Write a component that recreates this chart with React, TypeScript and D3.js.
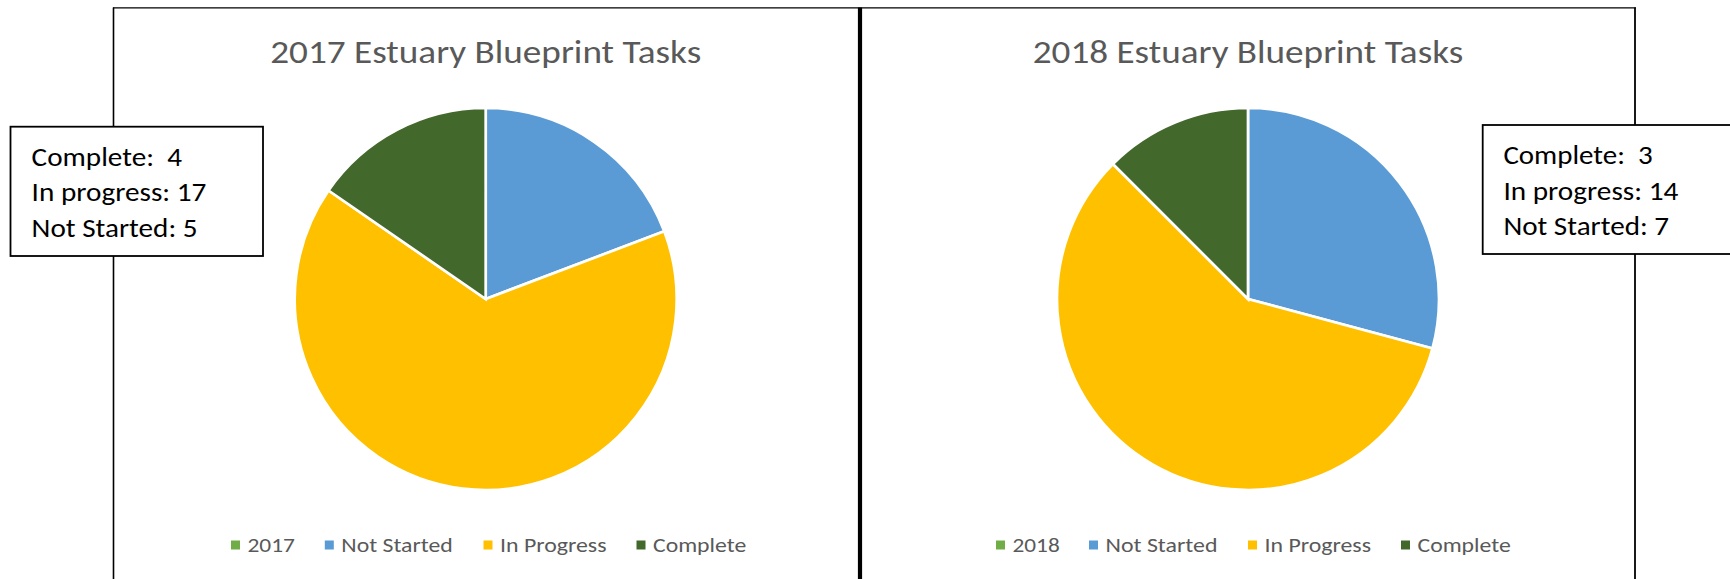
import React from "react";
import * as d3 from "d3";

const categories = ["Not Started", "In Progress", "Complete"];
const years = ["2017", "2018"];
const values2017 = [5, 17, 4];
const values2018 = [7, 14, 3];

const colors = ["#5B9BD5", "#FFC000", "#43682B"];
const yearColor = "#70AD47";
const textColor = "#595959";
const FONT = "Carlito, Calibri, Lato, sans-serif";

type PanelProps = {
  year: string;
  values: number[];
  cx: number;
  titleW: number;
  legendX: number[];
  legendW: number[];
};

function Panel({ year, values, cx, titleW, legendX, legendW }: PanelProps) {
  const cy = 299;
  const r = 191;
  const pie = d3.pie<number>().sort(null).value((d) => d).startAngle(0).endAngle(2 * Math.PI);
  const arc = d3.arc<d3.PieArcDatum<number>>().innerRadius(0).outerRadius(r);
  const arcs = pie(values);
  const legendLabels = [year, ...categories];
  const legendColors = [yearColor, ...colors];
  return (
    <g>
      <text
        x={cx}
        y={62.7}
        textAnchor="middle"
        fontFamily={FONT}
        fontSize={32.5}
        fill={textColor}
        textLength={titleW}
        lengthAdjust="spacingAndGlyphs"
      >
        {`${year} Estuary Blueprint Tasks`}
      </text>
      <g transform={`translate(${cx},${cy})`}>
        {arcs.map((a, i) => (
          <path key={i} d={arc(a) || ""} fill={colors[i]} stroke="#fff" strokeWidth={2.7} strokeLinejoin="miter" />
        ))}
      </g>
      {legendLabels.map((l, i) => (
        <g key={l}>
          <rect x={legendX[i]} y={540.5} width={9} height={9} fill={legendColors[i]} />
          <text
            x={legendX[i] + 16.5}
            y={552.3}
            fontFamily={FONT}
            fontSize={21}
            fill={textColor}
            textLength={legendW[i]}
            lengthAdjust="spacingAndGlyphs"
          >
            {l}
          </text>
        </g>
      ))}
    </g>
  );
}

type BoxProps = { x: number; y: number; w: number; h: number; values: number[]; tx: number; base: number; widths: number[] };

function InfoBox({ x, y, w, h, values, tx, base, widths }: BoxProps) {
  const lines = [`Complete:  ${values[2]}`, `In progress: ${values[1]}`, `Not Started: ${values[0]}`];
  return (
    <g>
      <rect x={x} y={y} width={w} height={h} fill="#fff" stroke="#000" strokeWidth={1.8} />
      {lines.map((t, i) => (
        <text
          key={i}
          x={tx}
          y={base + i * 35.4}
          fontFamily={FONT}
          fontSize={26.5}
          fill="#000"
          style={{ whiteSpace: "pre" }}
          textLength={widths[i]}
          lengthAdjust="spacingAndGlyphs"
        >
          {t}
        </text>
      ))}
    </g>
  );
}

export default function App() {
  return (
    <svg width={1730} height={579} style={{ position: "absolute", left: 0, top: 0, background: "#fff" }}>
      <rect x={0} y={0} width={1730} height={579} fill="#fff" />
      {/* chart frames */}
      <line x1={113.5} y1={7.5} x2={113.5} y2={590} stroke="#000" strokeWidth={1.6} />
      <line x1={113} y1={7.8} x2={1636} y2={7.8} stroke="#000" strokeWidth={1.3} />
      <line x1={860} y1={7.5} x2={860} y2={590} stroke="#000" strokeWidth={4.2} />
      <line x1={1635} y1={7.5} x2={1635} y2={590} stroke="#000" strokeWidth={1.8} />

      <Panel
        year={years[0]}
        values={values2017}
        cx={485.7}
        titleW={431}
        legendX={[231, 324.8, 483.5, 636.5]}
        legendW={[47.5, 111.5, 106.5, 93.2]}
      />
      <Panel
        year={years[1]}
        values={values2018}
        cx={1248}
        titleW={430.5}
        legendX={[996, 1089, 1248, 1401]}
        legendW={[47.2, 112, 106.5, 93.2]}
      />

      <InfoBox x={10.5} y={126.7} w={252.5} h={129.3} values={values2017} tx={31.6} base={166} widths={[150.4, 174.8, 166]} />
      <InfoBox x={1482.7} y={125} w={260} h={129} values={values2018} tx={1503.4} base={164.3} widths={[149.3, 175, 165.7]} />
    </svg>
  );
}
